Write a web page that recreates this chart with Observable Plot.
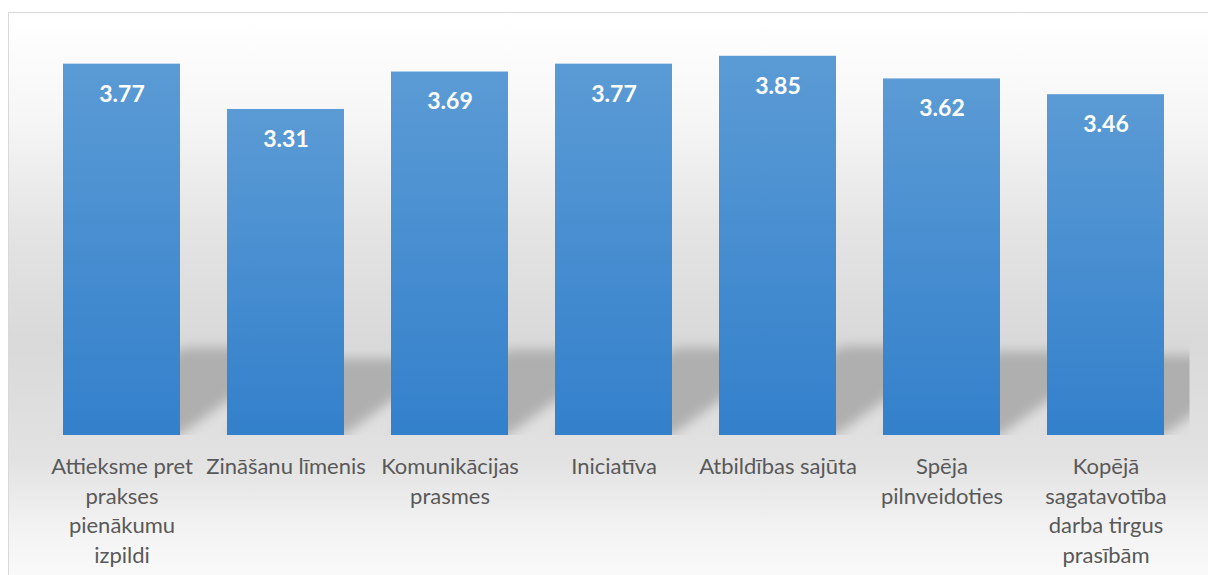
<!DOCTYPE html>
<html>
<head>
<meta charset="utf-8">
<script src="https://cdn.jsdelivr.net/npm/d3@7"></script>
<script src="https://cdn.jsdelivr.net/npm/@observablehq/plot@0.6"></script>
<style>
  html, body { margin: 0; padding: 0; width: 1208px; height: 575px; overflow: hidden; background: #ffffff; }
  #frame {
    position: absolute; left: 8px; top: 12px; width: 1215px; height: 590px;
    border: 1px solid #d9d9d9; box-sizing: border-box;
    background: linear-gradient(to bottom, #ffffff 0%, #f6f6f6 18%, #e3e3e3 38%, #d9d9d9 56%, #e2e2e2 76%, #f3f3f3 88%, #fdfdfd 100%);
  }
  #chart { position: absolute; left: 0; top: 0; }
</style>
</head>
<body>
<div id="frame"></div>
<div id="chart"></div>
<script>
const categories = [
  "Attieksme pret\nprakses\npienākumu\nizpildi",
  "Zināšanu līmenis",
  "Komunikācijas\nprasmes",
  "Iniciatīva",
  "Atbildības sajūta",
  "Spēja\npilnveidoties",
  "Kopējā\nsagatavotība\ndarba tirgus\nprasībām"
];
const values = [3.77, 3.31, 3.69, 3.77, 3.85, 3.62, 3.46];
const valueLabels = ["3.77", "3.31", "3.69", "3.77", "3.85", "3.62", "3.46"];

const shadowRatio = 0.235;
const data = categories.map((c, i) => ({category: c, value: values[i], label: valueLabels[i]}));

const plot = Plot.plot({
  width: 1208,
  height: 575,
  marginLeft: 38.5,
  marginRight: 18.5,
  marginTop: 41,
  marginBottom: 140,
  style: {background: "transparent", fontFamily: "Lato, 'Open Sans', sans-serif", overflow: "visible"},
  x: {domain: categories, paddingInner: 0.2854, paddingOuter: 0.1427, label: null, axis: null},
  y: {domain: [0, 4], axis: null},
  marks: [
    Plot.barY(data, {x: "category", y: d => d.value * shadowRatio, fill: "#afafaf"}),
    Plot.barY(data, {x: "category", y: "value", fill: "url(#barGrad)"}),
    Plot.text(data, {x: "category", y: "value", text: "label", dy: 30, fill: "white", fontSize: 23, fontWeight: "bold"}),
    Plot.axisX({tickSize: 0, tickPadding: 18, fontSize: 22, lineHeight: 1.34, color: "#595959", label: null})
  ]
});

const svg = d3.select(plot);
const xr = plot.scale("x").range;
const yr = plot.scale("y").range;
const base = yr[0];
const defs = svg.insert("defs", ":first-child");
const g = defs.append("linearGradient").attr("id", "barGrad").attr("x1", 0).attr("y1", 0).attr("x2", 0).attr("y2", 1);
g.append("stop").attr("offset", "0%").attr("stop-color", "#5b9bd5");
g.append("stop").attr("offset", "100%").attr("stop-color", "#3380cb");
const f = defs.append("filter").attr("id", "shadowBlur").attr("x", "-50%").attr("y", "-50%").attr("width", "200%").attr("height", "200%");
f.append("feGaussianBlur").attr("stdDeviation", 6);
defs.append("clipPath").attr("id", "plotClip").append("rect")
  .attr("x", xr[0]).attr("y", 0).attr("width", xr[1] - xr[0]).attr("height", base);

const shadowG = svg.selectAll("g[aria-label='bar']").filter((d, i) => i === 0);
shadowG.attr("filter", "url(#shadowBlur)").attr("clip-path", "url(#plotClip)");
shadowG.selectAll("rect").attr("transform", `translate(0,${base}) skewX(-54) translate(0,${-base})`);

document.getElementById("chart").appendChild(plot);
</script>
</body>
</html>
